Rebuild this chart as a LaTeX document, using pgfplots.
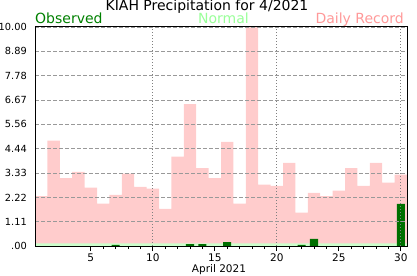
\documentclass[border=0pt]{standalone}
\usepackage{fontspec}
\setmainfont{DejaVu Sans}
\usepackage{pgfplots}
\pgfplotsset{compat=1.18}
\definecolor{rec}{HTML}{FFCCCC}
\definecolor{obs}{HTML}{006F00}
\definecolor{nrm}{HTML}{CCFFCC}
\definecolor{nrmtxt}{HTML}{99FF99}
\definecolor{rectxt}{HTML}{FF9999}
\definecolor{obstxt}{HTML}{008000}
\definecolor{gridgray}{HTML}{999999}
\begin{document}
\begin{tikzpicture}
\useasboundingbox (0,0) rectangle (417bp,276bp);
\begin{axis}[
  at={(35bp,30bp)}, anchor=south west,
  scale only axis, width=372bp, height=219bp,
  xmin=0.5, xmax=30.5, ymin=0, ymax=10,
  axis on top,
  font=\fontsize{10.5bp}{12bp}\selectfont,
  /pgf/number format/assume math mode=true,
  xtick={5,10,15,20,25,30},
  minor x tick num=4,
  xtick pos=bottom, tick align=outside,
  major tick length=5bp, minor tick length=3bp,
  xticklabel style={inner sep=0pt, yshift=-2.5bp},
  ytick={0,1.11,2.22,3.33,4.44,5.56,6.67,7.78,8.89,10},
  yticklabels={.00,1.11,2.22,3.33,4.44,5.56,6.67,7.78,8.89,10.00},
  ytick style={draw=none},
  yticklabel style={inner sep=0pt, xshift=-3bp, font=\fontsize{9.8bp}{12bp}\selectfont},
  ymajorgrids,
  major grid style={gridgray, dash pattern=on 4bp off 2bp, line width=0.8bp},
  axis line style={black, line width=1bp},
  tick style={black, line width=0.8bp},
  clip=true,
]
% Daily record
\addplot[ybar, bar width=1, bar shift=0pt, fill=rec, draw=none] coordinates {
(1,2.28) (2,4.81) (3,3.10) (4,3.38) (5,2.66) (6,1.93) (7,2.34) (8,3.30) (9,2.70) (10,2.62)
(11,1.69) (12,4.08) (13,6.48) (14,3.56) (15,3.10) (16,4.75) (17,1.93) (18,10.00) (19,2.80) (20,2.75)
(21,3.80) (22,1.52) (23,2.43) (24,2.28) (25,2.53) (26,3.56) (27,2.75) (28,3.80) (29,2.89) (30,3.26)};
% Normal
\addplot[ybar, bar width=1, bar shift=0pt, fill=nrm, draw=none] coordinates {
(1,0.12) (2,0.12) (3,0.12) (4,0.12) (5,0.12) (6,0.12) (7,0.12) (8,0.12) (9,0.12) (10,0.12)
(11,0.12) (12,0.12) (13,0.12) (14,0.12) (15,0.12) (16,0.12) (17,0.12) (18,0.12) (19,0.12) (20,0.12)
(21,0.12) (22,0.12) (23,0.12) (24,0.12) (25,0.12) (26,0.12) (27,0.12) (28,0.12) (29,0.12) (30,0.12)};
% Observed
\addplot[ybar, bar width=0.65, bar shift=0pt, fill=obs, draw=none] coordinates {
(7,0.05) (13,0.09) (14,0.09) (16,0.18) (22,0.05) (23,0.32) (30,1.92)};
\draw[gray, dash pattern=on 1bp off 2bp, line width=0.8bp] (axis cs:10,0) -- (axis cs:10,10);
\draw[gray, dash pattern=on 1bp off 2bp, line width=0.8bp] (axis cs:20,0) -- (axis cs:20,10);
\draw[gray, dash pattern=on 1bp off 2bp, line width=0.8bp] (axis cs:30,0) -- (axis cs:30,10);
\end{axis}
\node[anchor=base, inner sep=0pt, font=\fontsize{14bp}{16bp}\selectfont] at (207bp,265bp) {KIAH Precipitation for 4/2021};
\node[anchor=base west, inner sep=0pt, text=obstxt, font=\fontsize{14bp}{16bp}\selectfont] at (35bp,252bp) {Observed};
\node[anchor=base, inner sep=0pt, text=nrmtxt, font=\fontsize{14bp}{16bp}\selectfont] at (223.5bp,252bp) {Normal};
\node[anchor=base east, inner sep=0pt, text=rectxt, font=\fontsize{14bp}{16bp}\selectfont] at (404bp,252bp) {Daily Record};
\node[anchor=base, inner sep=0pt, font=\fontsize{10.5bp}{12bp}\selectfont] at (219bp,4bp) {April 2021};
\end{tikzpicture}
\end{document}
